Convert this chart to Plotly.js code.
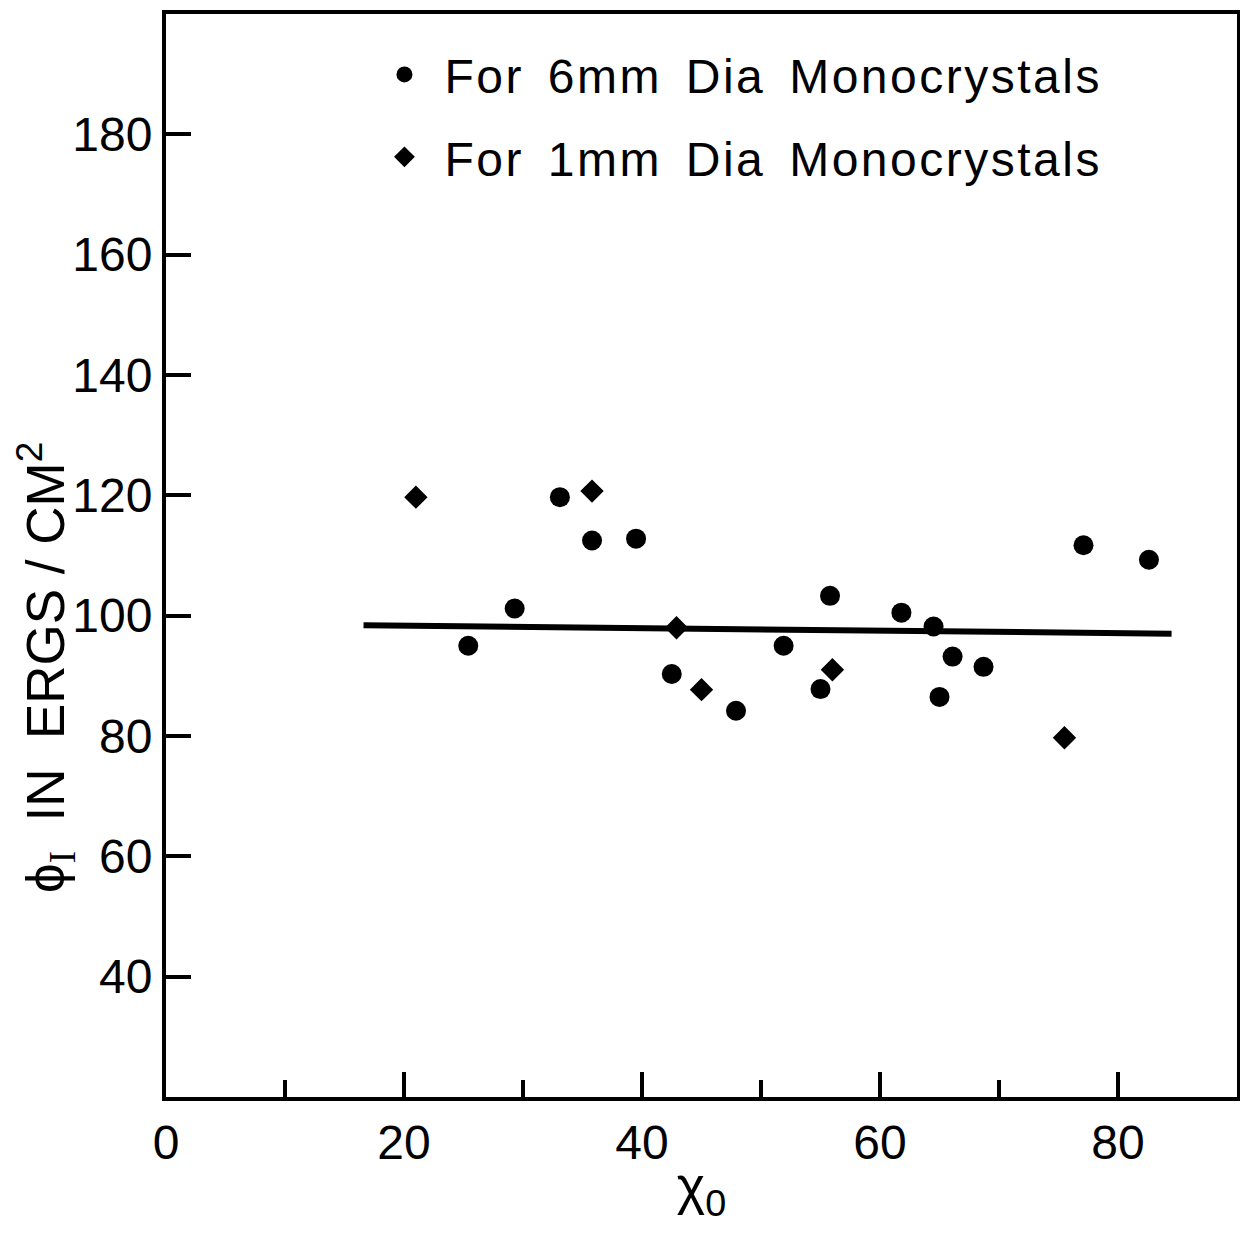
<!DOCTYPE html>
<html>
<head>
<meta charset="utf-8">
<script src="https://cdn.plot.ly/plotly-3.0.1.min.js"></script>
<style>
  html, body { margin: 0; padding: 0; background: #fff; }
  #chart { width: 1240px; height: 1243px; }
  .legendtext { letter-spacing: 2.5px; word-spacing: 8px; }
</style>
</head>
<body>
<div id="chart"></div>
<script>
// Data
const x6mm = [25.4, 29.3, 33.1, 35.8, 39.5, 42.5, 47.9, 51.9, 55.0, 55.8, 61.8, 64.5, 65.0, 66.1, 68.7, 77.1, 82.6];
const y6mm = [95.0, 101.2, 119.7, 112.5, 112.8, 90.3, 84.2, 95.0, 87.8, 103.3, 100.5, 98.2, 86.5, 93.2, 91.5, 111.7, 109.3];
const x1mm = [21.0, 35.8, 42.9, 45.0, 56.0, 75.5];
const y1mm = [119.7, 120.7, 98.0, 87.7, 91.0, 79.7];
const fitX = [16.6, 84.5];
const fitY = [98.4, 97.0];
const xTickVals = [0, 20, 40, 60, 80];
const xMinorVals = [10, 30, 50, 70];
const yTickVals = [40, 60, 80, 100, 120, 140, 160, 180];
const name6 = 'For 6mm Dia Monocrystals';
const name1 = 'For 1mm Dia Monocrystals';
const yTitle = 'ϕ<sub><span style="font-family:Liberation Serif">I</span></sub>  IN  ERGS / CM<sup>2</sup>';
const xTitle = 'χ<sub>0</sub>';

const FONT = 'Liberation Sans, Arial, sans-serif';

const traces = [
  {
    x: fitX, y: fitY, mode: 'lines', type: 'scatter',
    line: { color: '#000', width: 6 }, showlegend: false, hoverinfo: 'skip'
  },
  {
    x: x6mm, y: y6mm, mode: 'markers', type: 'scatter', name: name6, legendgroup: 'a',
    marker: { symbol: 'circle', size: 20, color: '#000' }
  },
  {
    x: x1mm, y: y1mm, mode: 'markers', type: 'scatter', name: name1, legendgroup: 'b',
    marker: { symbol: 'diamond', size: 18, color: '#000' }
  }
];

const layout = {
  width: 1240, height: 1243,
  margin: { l: 166, r: 3, t: 14, b: 146, pad: 0 },
  paper_bgcolor: '#fff', plot_bgcolor: '#fff',
  font: { family: FONT, color: '#000', size: 46 },
  showlegend: true,
  legend: {
    x: 0.1853, y: 0.979, xanchor: 'left', yanchor: 'top',
    bgcolor: 'rgba(0,0,0,0)', borderwidth: 0,
    font: { family: FONT, size: 48, color: '#000' },
    traceorder: 'grouped', tracegroupgap: 17, itemwidth: 70
  },
  xaxis: {
    range: [0, 90], showgrid: false, zeroline: false,
    showline: true, linecolor: '#000', linewidth: 4, mirror: true,
    ticks: 'inside', ticklen: 25, tickwidth: 4, tickcolor: '#000',
    tickmode: 'array', tickvals: xTickVals, ticktext: xTickVals.map(String),
    tickfont: { family: FONT, size: 48, color: '#000' },
    minor: { tickmode: 'array', tickvals: xMinorVals, ticks: 'inside', ticklen: 17, tickwidth: 4, tickcolor: '#000', showgrid: false },
    title: { text: xTitle, font: { family: FONT, size: 54, color: '#000' }, standoff: 0 }
  },
  yaxis: {
    range: [20, 200], showgrid: false, zeroline: false,
    showline: true, linecolor: '#000', linewidth: 4, mirror: true,
    ticks: 'inside', ticklen: 25, tickwidth: 4, tickcolor: '#000',
    tickmode: 'array', tickvals: yTickVals, ticktext: yTickVals.map(String),
    tickfont: { family: FONT, size: 48, color: '#000' }
  },
  annotations: [
    {
      text: yTitle, xref: 'paper', yref: 'paper',
      x: -0.113, y: 0.397, xanchor: 'center', yanchor: 'middle',
      textangle: -90, showarrow: false,
      font: { family: FONT, size: 53, color: '#000' }
    }
  ]
};

Plotly.newPlot('chart', traces, layout, { displayModeBar: false, staticPlot: true });
</script>
</body>
</html>
